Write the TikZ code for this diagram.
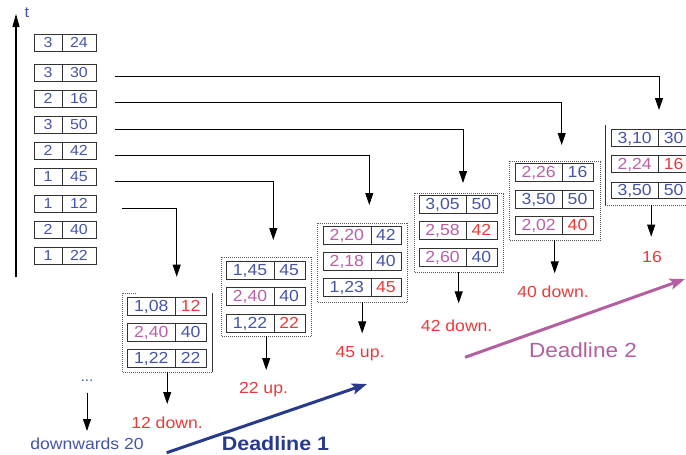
\documentclass[tikz,border=0pt]{standalone}
\usepackage{fontspec}
\setmainfont{Liberation Sans}[FakeStretch=1.1]
\usetikzlibrary{arrows.meta,calc}

\definecolor{numblue}{RGB}{70,85,165}
\definecolor{nummag}{RGB}{185,95,165}
\definecolor{numred}{RGB}{232,60,60}
\definecolor{cellgray}{RGB}{50,50,50}
\definecolor{dlone}{RGB}{40,58,140}
\definecolor{dltwo}{RGB}{180,95,160}

\tikzset{
  cellbox/.style={draw=cellgray, line width=1.1pt, inner sep=0pt, anchor=north west},
  cellline/.style={draw=cellgray, line width=0.9pt},
  celltext/.style={inner sep=0pt, text height=11.5pt, text depth=0pt,
    font=\fontsize{16}{18}\selectfont, text=numblue},
  queuetext/.style={celltext, text height=10.5pt, font=\fontsize{14.5}{16}\selectfont},
  grpbox/.style={draw=none, inner sep=0pt, anchor=north west},
  dotline/.style={draw=black!65, line width=0.8pt, dash pattern=on 1pt off 1pt},
  solidedge/.style={draw=black!80, line width=0.9pt},
  flow/.style={draw=black, line width=0.9pt, -{Triangle[width=8pt,length=12pt]}},
  steplabel/.style={inner sep=0pt, text height=11.5pt, text depth=0pt,
    font=\fontsize{16}{18}\selectfont, text=numred},
  deadline/.style={line width=3pt, -{Stealth[length=15pt,width=11pt,inset=3pt]}},
}

% #1 name, #2 left, #3 top, #4 width, #5 height, #6 split, #7 left text, #8 right text
\newcommand\dualcell[8]{%
  \node[cellbox, minimum width=#4pt, minimum height=#5pt] (#1) at (#2,#3) {};
  \draw[cellline] ({#2+#6},#3) -- ({#2+#6},{#3+#5});
  \node[celltext] (#1l) at ({#2+#6/2},{#3+#5/2}) {#7};
  \node[celltext] (#1r) at ({#2+(#4+#6)/2},{#3+#5/2}) {#8};
}
% queue entry: #1 name, #2 top, #3 left text, #4 right text
\newcommand\queuecell[4]{%
  \node[cellbox, minimum width=62pt, minimum height=17pt] (#1) at (34,#2) {};
  \draw[cellline] (62,#2) -- (62,{#2+17});
  \node[queuetext] (#1l) at (48,{#2+8.5}) {#3};
  \node[queuetext] (#1r) at (79,{#2+8.5}) {#4};
}
\newcommand\inmag[1]{\textcolor{nummag}{#1}}
\newcommand\inred[1]{\textcolor{numred}{#1}}

\begin{document}
\begin{tikzpicture}[x=1pt,y=-1pt]
\useasboundingbox (0,0) rectangle (686,455);
\clip (0,0) rectangle (686,455);

% time axis
\coordinate (tbot) at (16,277);
\coordinate (ttop) at (16,14);
\draw[line width=1.1pt, -{Triangle[width=7pt,length=13pt]}] (tbot) -- (ttop);
\node[text=numblue, font=\fontsize{15}{16}\selectfont, inner sep=0pt] (tlab) at (27,13) {t};

% incoming queue
\queuecell{q1}{33.5}{3}{24}
\queuecell{q2}{63.5}{3}{30}
\queuecell{q3}{89.5}{2}{16}
\queuecell{q4}{115.5}{3}{50}
\queuecell{q5}{141.5}{2}{42}
\queuecell{q6}{167.5}{1}{45}
\queuecell{q7}{194.5}{1}{12}
\queuecell{q8}{220.5}{2}{40}
\queuecell{q9}{246.5}{1}{22}

% group containers
\node[grpbox, minimum width=90pt, minimum height=79pt] (c1) at (122,293) {};
\node[grpbox, minimum width=90pt, minimum height=79pt] (c2) at (221,257) {};
\node[grpbox, minimum width=90pt, minimum height=79pt] (c3) at (317,223) {};
\node[grpbox, minimum width=89pt, minimum height=79pt] (c4) at (414,193) {};
\node[grpbox, minimum width=91pt, minimum height=79pt] (c5) at (509,161) {};
\node[grpbox, minimum width=92pt, minimum height=80pt] (c6) at (605,125) {};

\draw[dotline] ($(c1.north west)+(14,0)$) -- (c1.north west) -- (c1.south west) -- (c1.south east);
\draw[solidedge] (c1.south east) -- (c1.north east);
\draw[dotline] (c2.north west) rectangle (c2.south east);
\draw[dotline] (c3.north west) rectangle (c3.south east);
\draw[dotline] (c4.north west) rectangle (c4.south east);
\draw[dotline] (c5.north west) rectangle (c5.south east);
\draw[solidedge] (c6.north west) -- (c6.south west);
\draw[dotline] (c6.south west) -- (c6.south east);

% group 1
\dualcell{ga1}{126.7}{296.7}{79}{18}{49}{1,08}{\inred{12}}
\dualcell{ga2}{126.7}{322.7}{79}{18}{49}{\inmag{2,40}}{40}
\dualcell{ga3}{126.7}{348.7}{79}{18}{49}{1,22}{22}
% group 2
\dualcell{gb1}{226}{260.7}{78.5}{18}{48}{1,45}{45}
\dualcell{gb2}{226}{286.7}{78.5}{18}{48}{\inmag{2,40}}{40}
\dualcell{gb3}{226}{313.5}{78.5}{18}{48}{1,22}{\inred{22}}
% group 3
\dualcell{gc1}{322.7}{225.7}{78}{18}{48.3}{\inmag{2,20}}{42}
\dualcell{gc2}{322.7}{251.7}{78}{18}{48.3}{\inmag{2,18}}{40}
\dualcell{gc3}{322.7}{277.7}{78}{18}{48.3}{1,23}{\inred{45}}
% group 4
\dualcell{gd1}{419}{195}{77.7}{17.5}{47}{3,05}{50}
\dualcell{gd2}{419}{221}{77.7}{17.5}{47}{\inmag{2,58}}{\inred{42}}
\dualcell{gd3}{419}{248}{77.7}{17.5}{47}{\inmag{2,60}}{40}
% group 5
\dualcell{ge1}{515}{163.3}{77.7}{17.5}{47.3}{\inmag{2,26}}{16}
\dualcell{ge2}{515}{190}{77.7}{17.5}{47.3}{3,50}{50}
\dualcell{ge3}{515}{216}{77.7}{17.5}{47.3}{\inmag{2,02}}{\inred{40}}
% group 6
\dualcell{gf1}{611}{129}{78}{16.5}{47.3}{3,10}{30}
\dualcell{gf2}{611}{155}{78}{16.5}{47.3}{\inmag{2,24}}{\inred{16}}
\dualcell{gf3}{611}{181.5}{78}{16.5}{47.3}{3,50}{50}

% feed lines from the queue to each group
\coordinate (s1) at (115,76.5);   \coordinate (t1) at (659,110);
\coordinate (s2) at (115,102.5);  \coordinate (t2) at (561.7,145);
\coordinate (s3) at (115,129);    \coordinate (t3) at (463,183);
\coordinate (s4) at (115,155);    \coordinate (t4) at (369.3,205);
\coordinate (s5) at (115,181.5);  \coordinate (t5) at (273.3,240);
\coordinate (s6) at (122,208);    \coordinate (t6) at (176.7,276.7);
\draw[flow] (s1) -| (t1);
\draw[flow] (s2) -| (t2);
\draw[flow] (s3) -| (t3);
\draw[flow] (s4) -| (t4);
\draw[flow] (s5) -| (t5);
\draw[flow] (s6) -| (t6);

% outcomes
\node[steplabel] (l1) at (167,422.7) {12 down.};
\node[steplabel] (l2) at (263.5,388) {22 up.};
\node[steplabel] (l3) at (360,351.7) {45 up.};
\node[steplabel] (l4) at (456.7,325.7) {42 down.};
\node[steplabel] (l5) at (553,291.7) {40 down.};
\node[steplabel] (l6) at (652,256.7) {16};

\coordinate (b1) at (167,404);
\coordinate (b2) at (265,370);
\coordinate (b3) at (361.7,333.3);
\coordinate (b4) at (458.3,303.3);
\coordinate (b5) at (554.3,273.3);
\coordinate (b6) at (651,236.7);
\draw[flow] (c1.south) -- (c1.south |- b1);
\draw[flow] (c2.south) -- (c2.south |- b2);
\draw[flow] (c3.south) -- (c3.south |- b3);
\draw[flow] (c4.south) -- (c4.south |- b4);
\draw[flow] (c5.south) -- (c5.south |- b5);
\draw[flow] (c6.south) -- (c6.south |- b6);

% continuation below the queue
\node[text=numblue, font=\fontsize{14}{16}\selectfont, inner sep=0pt] (more) at (87,381) {...};
\coordinate (mtop) at (87,392.5);
\coordinate (mtip) at (87,431);
\draw[flow] (mtop) -- (mtip);
\node[celltext] (dw) at (87,444) {downwards 20};

% deadlines
\coordinate (d1s) at (166.7,452.7);
\coordinate (d1e) at (367,384);
\draw[deadline, dlone] (d1s) -- (d1e);
\node[inner sep=0pt, text height=14pt, text depth=0pt, text=dlone, font=\fontsize{19.5}{22}\bfseries] (d1t) at (275.5,443) {Deadline 1};

\coordinate (d2s) at (465,357.3);
\coordinate (d2e) at (685,279);
\draw[deadline, dltwo] (d2s) -- (d2e);
\node[inner sep=0pt, text height=14pt, text depth=0pt, text=dltwo, font=\fontsize{20.5}{24}\selectfont] (d2t) at (583,350) {Deadline 2};
\end{tikzpicture}
\end{document}
